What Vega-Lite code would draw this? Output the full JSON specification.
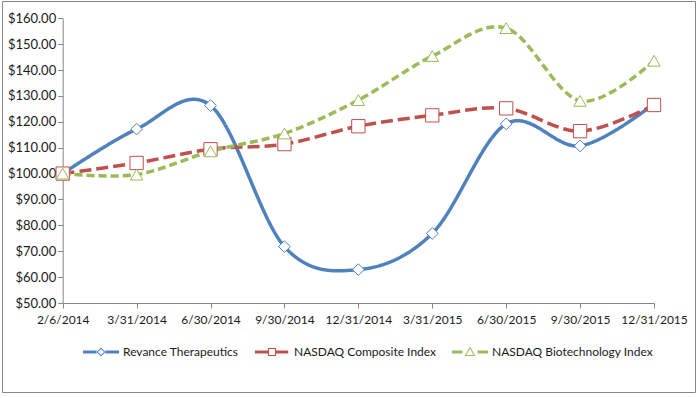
{
  "$schema": "https://vega.github.io/schema/vega-lite/v6.json",
  "width": 693,
  "height": 391,
  "padding": {"left": 2, "top": 1, "right": 4, "bottom": 6},
  "autosize": {"type": "none"},
  "background": "white",
  "config": {"view": {"stroke": "#868686", "strokeWidth": 1}, "font": "Lato", "axis": {"labelOverlap": false, "labelSeparation": 0}},
  "data": {"values": [
    {"date": "2/6/2014", "series": "Revance Therapeutics", "value": 100},
    {"date": "3/31/2014", "series": "Revance Therapeutics", "value": 117.2},
    {"date": "6/30/2014", "series": "Revance Therapeutics", "value": 126.3},
    {"date": "9/30/2014", "series": "Revance Therapeutics", "value": 71.8},
    {"date": "12/31/2014", "series": "Revance Therapeutics", "value": 62.9},
    {"date": "3/31/2015", "series": "Revance Therapeutics", "value": 76.9},
    {"date": "6/30/2015", "series": "Revance Therapeutics", "value": 119.2},
    {"date": "9/30/2015", "series": "Revance Therapeutics", "value": 110.7},
    {"date": "12/31/2015", "series": "Revance Therapeutics", "value": 127.0},
    {"date": "2/6/2014", "series": "NASDAQ Composite Index", "value": 100},
    {"date": "3/31/2014", "series": "NASDAQ Composite Index", "value": 104.1},
    {"date": "6/30/2014", "series": "NASDAQ Composite Index", "value": 109.4},
    {"date": "9/30/2014", "series": "NASDAQ Composite Index", "value": 111.4},
    {"date": "12/31/2014", "series": "NASDAQ Composite Index", "value": 118.3},
    {"date": "3/31/2015", "series": "NASDAQ Composite Index", "value": 122.5},
    {"date": "6/30/2015", "series": "NASDAQ Composite Index", "value": 125.2},
    {"date": "9/30/2015", "series": "NASDAQ Composite Index", "value": 116.4},
    {"date": "12/31/2015", "series": "NASDAQ Composite Index", "value": 126.5},
    {"date": "2/6/2014", "series": "NASDAQ Biotechnology Index", "value": 100},
    {"date": "3/31/2014", "series": "NASDAQ Biotechnology Index", "value": 99.6},
    {"date": "6/30/2014", "series": "NASDAQ Biotechnology Index", "value": 108.6},
    {"date": "9/30/2014", "series": "NASDAQ Biotechnology Index", "value": 115.5},
    {"date": "12/31/2014", "series": "NASDAQ Biotechnology Index", "value": 128.4},
    {"date": "3/31/2015", "series": "NASDAQ Biotechnology Index", "value": 145.4},
    {"date": "6/30/2015", "series": "NASDAQ Biotechnology Index", "value": 156.2},
    {"date": "9/30/2015", "series": "NASDAQ Biotechnology Index", "value": 128.1},
    {"date": "12/31/2015", "series": "NASDAQ Biotechnology Index", "value": 143.6}
  ]},
  "encoding": {
    "x": {"field": "date", "type": "ordinal", "sort": null,
      "scale": {"type": "point", "range": [60.7, 652], "padding": 0},
      "axis": {"title": null, "labelAngle": 0, "offset": -89, "grid": false, "tickSize": 5, "labelPadding": 6,
        "labelFont": "Lato", "labelFontSize": 12, "labelColor": "#1a1a1a", "domainColor": "#868686", "tickColor": "#868686"}},
    "y": {"field": "value", "type": "quantitative",
      "scale": {"domain": [50, 160], "range": [302, 17.3], "nice": false, "zero": false},
      "axis": {"title": null, "format": "$.2f", "values": [50, 60, 70, 80, 90, 100, 110, 120, 130, 140, 150, 160], "grid": false,
        "labelOverlap": false, "labelBound": false, "offset": -60.7, "tickSize": 5, "labelPadding": 2, "labelFont": "Lato", "labelFontSize": 13, "labelColor": "#1a1a1a",
        "domainColor": "#868686", "tickColor": "#868686"}}
  },
  "layer": [
    {
      "mark": {"type": "line", "interpolate": "cardinal", "tension": 0, "strokeWidth": 3.5},
      "encoding": {
        "color": {"field": "series", "type": "nominal", "sort": null,
          "scale": {"domain": ["Revance Therapeutics", "NASDAQ Composite Index", "NASDAQ Biotechnology Index"], "range": ["#4F81BD", "#C0504D", "#9BBB59"]},
          "legend": {"title": null, "orient": "none", "direction": "horizontal", "legendX": 81, "legendY": 333, "padding": 0,
            "symbolSize": 1296, "labelOffset": 4, "columnPadding": 15, "labelFont": "Lato", "labelFontSize": 12, "labelColor": "#1a1a1a", "labelLimit": 300,
            "encode": {"symbols": {"update": {
              "shape": {"signal": "datum.value === 'Revance Therapeutics' ? 'M-1,-0.083H-0.25V0.083H-1Z M0.25,-0.083H1V0.083H0.25Z M0,-0.25L0.25,0L0,0.25L-0.25,0Z M0,-0.17L-0.17,0L0,0.17L0.17,0Z' : datum.value === 'NASDAQ Composite Index' ? 'M-0.95,-0.083H-0.22V0.083H-0.95Z M0.22,-0.083H0.9V0.083H0.22Z M-0.22,-0.22H0.22V0.22H-0.22Z M-0.165,-0.165V0.165H0.165V-0.165Z' : 'M-1,-0.083H-0.42V0.083H-1Z M0.42,-0.083H1V0.083H0.42Z M0,-0.3L0.3,0.22H-0.3Z M0,-0.19L-0.2,0.165H0.2Z'"},
              "fill": {"signal": "datum.value === 'Revance Therapeutics' ? '#4F81BD' : datum.value === 'NASDAQ Composite Index' ? '#C0504D' : '#9BBB59'"},
              "stroke": {"value": "transparent"},
              "strokeWidth": {"value": 0},
              "strokeDash": {"value": [1, 0]},
              "opacity": {"value": 1},
              "fillOpacity": {"value": 1}
            }}}}},
        "strokeDash": {"field": "series", "type": "nominal", "sort": null,
          "scale": {"domain": ["Revance Therapeutics", "NASDAQ Composite Index", "NASDAQ Biotechnology Index"], "range": [[1, 0], [12, 5], [8, 4]]},
          "legend": null}
      }
    },
    {
      "mark": {"type": "point", "filled": false, "fill": "white", "fillOpacity": 1, "strokeWidth": 1, "opacity": 1},
      "encoding": {
        "stroke": {"condition": [{"test": "datum.series === 'Revance Therapeutics'", "value": "#4F81BD"}, {"test": "datum.series === 'NASDAQ Composite Index'", "value": "#C0504D"}], "value": "#9BBB59"},
        "shape": {"condition": [{"test": "datum.series === 'Revance Therapeutics'", "value": "diamond"}, {"test": "datum.series === 'NASDAQ Composite Index'", "value": "square"}], "value": "triangle-up"},
        "size": {"condition": [{"test": "datum.series === 'Revance Therapeutics'", "value": 137}, {"test": "datum.series === 'NASDAQ Composite Index'", "value": 177}], "value": 155}
      }
    }
  ]
}
